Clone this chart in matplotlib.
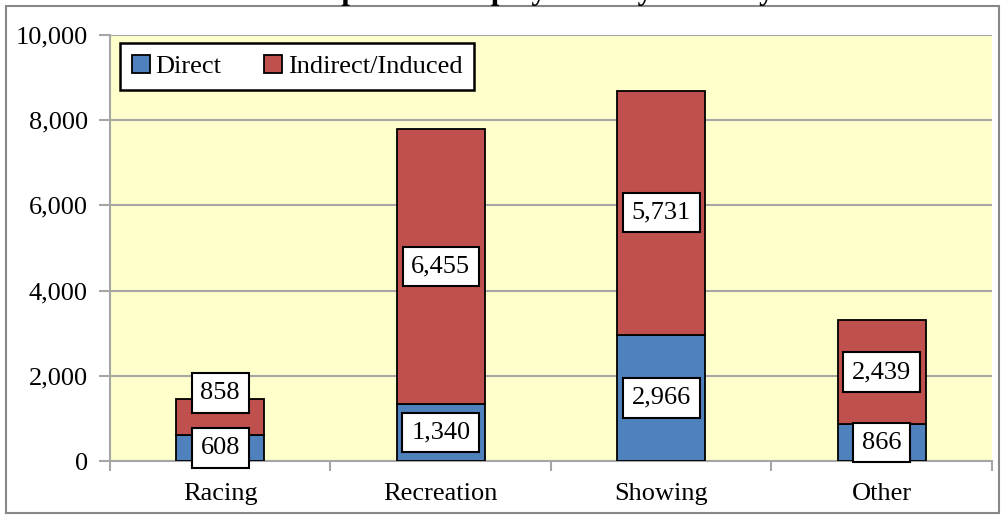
import matplotlib.pyplot as plt
from matplotlib.patches import Rectangle
import numpy as np

plt.rcParams['font.family'] = ['Liberation Serif', 'DejaVu Serif']

categories = ['Racing', 'Recreation', 'Showing', 'Other']
direct = [608, 1340, 2966, 866]
indirect = [858, 6455, 5731, 2439]
yticks = [0, 2000, 4000, 6000, 8000, 10000]

blue = '#4F81BD'
red = '#C0504D'
grid_grey = '#A6A6A6'

fig = plt.figure(figsize=(10.04, 5.16), dpi=100)
fig.patch.set_facecolor('white')

# grey frame round the whole chart
fig.patches.append(Rectangle((6 / 1004, 3 / 516), 993 / 1004, 507 / 516,
                             transform=fig.transFigure, fill=False,
                             edgecolor='#888888', linewidth=1.5))

# title sits above the frame
fig.text(0.537, 1.0 + 1 / 516, 'Impact on Employment by Industry',
         ha='center', va='baseline', fontsize=22, fontweight='bold')

ax = fig.add_axes([110 / 1004, 1 - 461 / 516, 882 / 1004, 426 / 516])
ax.set_facecolor('#FFFFCC')

x = np.arange(len(categories))
width = 0.4
b1 = ax.bar(x, direct, width, color=blue, edgecolor='black', linewidth=1.3,
            label='Direct', zorder=3)
b2 = ax.bar(x, indirect, width, bottom=direct, color=red, edgecolor='black',
            linewidth=1.3, label='Indirect/Induced', zorder=3)

box = dict(boxstyle='square,pad=0.33', facecolor='white', edgecolor='black',
           linewidth=1.5)
for i in range(len(categories)):
    ax.annotate(f'{direct[i]:,}', (x[i], direct[i] / 2), ha='center',
                va='center', fontsize=19, bbox=box, zorder=5)
    # small stacks would overlap, push the upper label up a bit
    nudge = 24 if indirect[i] + direct[i] < 2000 else 0
    ax.annotate(f'{indirect[i]:,}', (x[i], direct[i] + indirect[i] / 2),
                xytext=(0, nudge * 0.72), textcoords='offset points',
                ha='center', va='center', fontsize=19, bbox=box, zorder=5)

ax.set_xlim(-0.5, len(categories) - 0.5)
ax.set_ylim(0, 10000)
ax.set_yticks(yticks)
ax.set_yticklabels([f'{v:,}' for v in yticks], fontsize=19)
ax.set_xticks(x)
ax.set_xticklabels(categories, fontsize=19)
ax.set_xticks(np.arange(-0.5, len(categories)), minor=True)
ax.tick_params(axis='x', which='major', length=0, pad=16)
ax.tick_params(axis='x', which='minor', length=7, color=grid_grey, width=1.5)
ax.tick_params(axis='y', length=8, color=grid_grey, width=1.5, pad=8)

ax.yaxis.grid(True, color=grid_grey, linewidth=1.5, zorder=0)
ax.set_axisbelow(True)
for side in ['top', 'right']:
    ax.spines[side].set_visible(False)
for side in ['left', 'bottom']:
    ax.spines[side].set_color(grid_grey)
    ax.spines[side].set_linewidth(1.5)

leg = ax.legend(loc='upper left', bbox_to_anchor=(10 / 882, 1 - 8 / 426),
                ncol=2, fontsize=19, frameon=True, fancybox=False,
                handlelength=0.7, handleheight=0.7, handletextpad=0.2,
                columnspacing=1.6, borderpad=0.45, borderaxespad=0)
leg.get_frame().set_edgecolor('black')
leg.get_frame().set_linewidth(1.8)
leg.get_frame().set_alpha(1)

fig.savefig('out.png', dpi=100)
